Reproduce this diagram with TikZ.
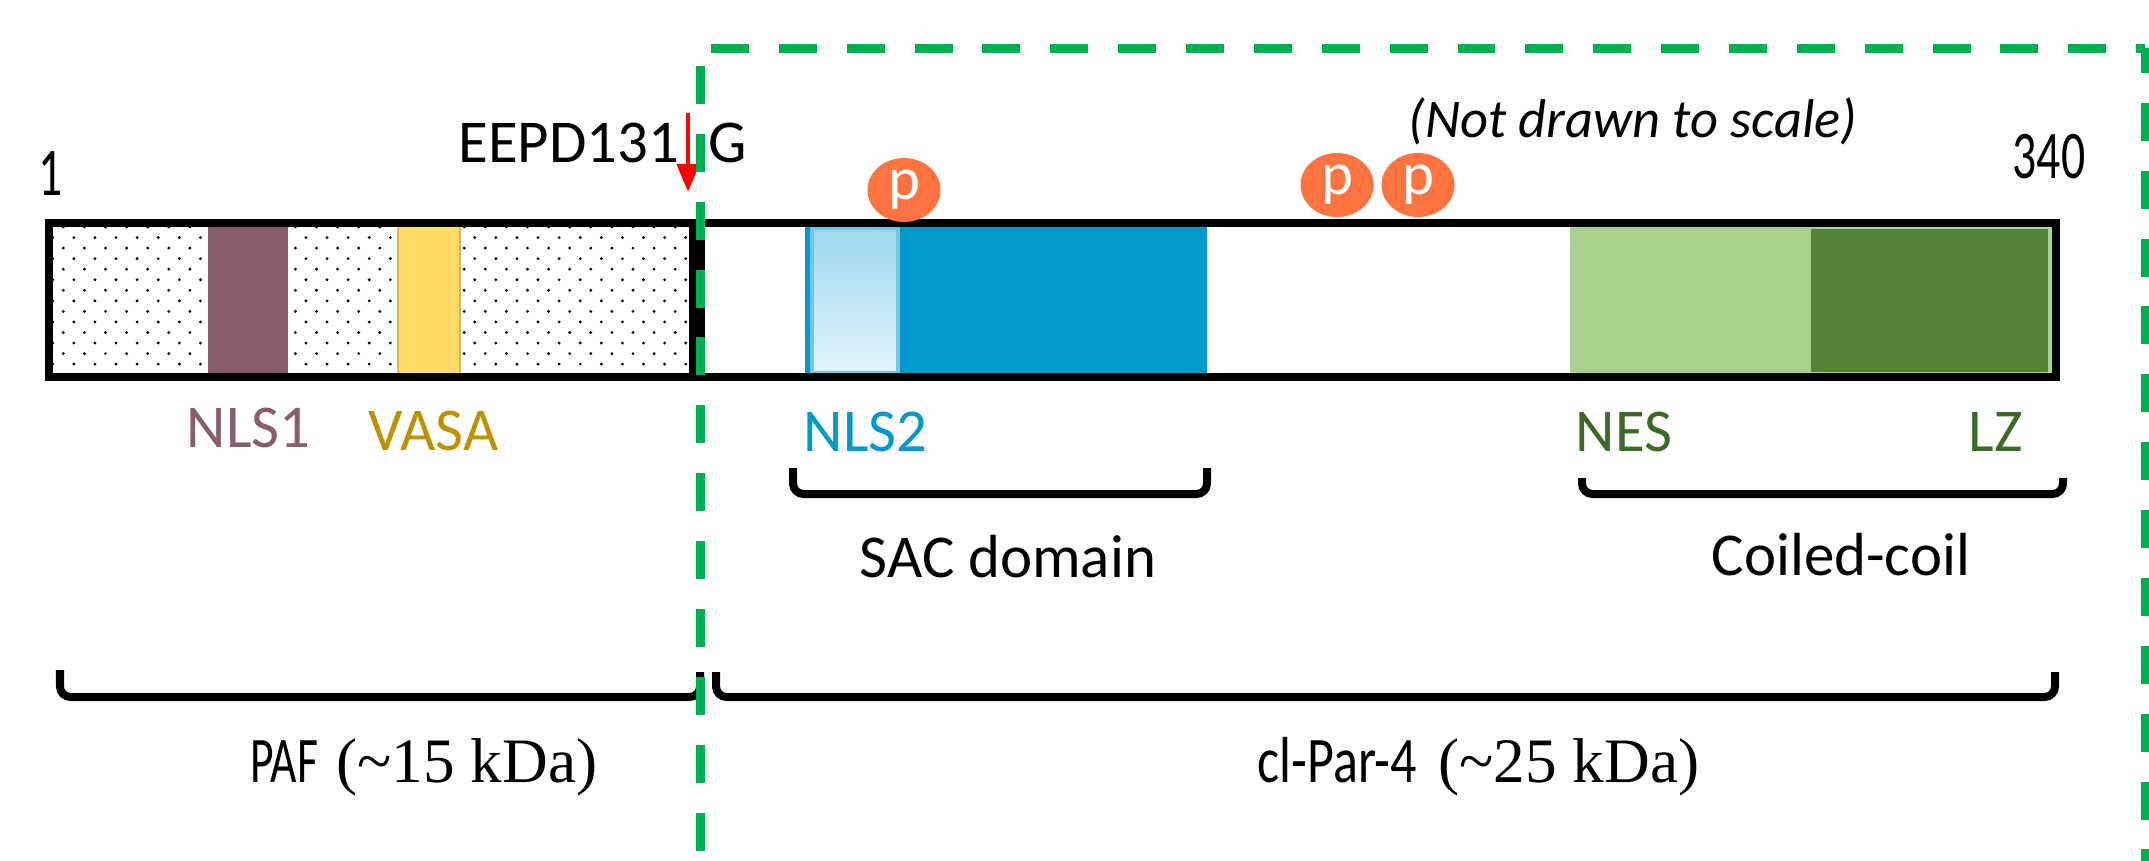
\documentclass[tikz,border=0pt]{standalone}
\usepackage{fontspec}
\setmainfont{Carlito}
\newfontfamily\timesfont{Liberation Serif}
\newfontfamily\condfont[FakeStretch=0.7]{Carlito}
\newfontfamily\semicondfont[FakeStretch=0.8]{Carlito}
\usetikzlibrary{calc, arrows.meta, patterns, shapes.geometric}

\definecolor{nlsbrown}{HTML}{875E6B}
\definecolor{vasafill}{HTML}{FFD966}
\definecolor{vasatext}{HTML}{BF9000}
\definecolor{sacblue}{HTML}{0099CC}
\definecolor{saclight}{HTML}{9ED8EE}
\definecolor{saclighter}{HTML}{E2F3FA}
\definecolor{neslight}{HTML}{A9D18E}
\definecolor{lzdark}{HTML}{548235}
\definecolor{cctext}{HTML}{3D6A26}
\definecolor{cutgreen}{HTML}{00B050}
\definecolor{phos}{HTML}{FF7340}

% sparse staggered dots for the PAF part
\pgfdeclarepatternformonly{fine dots}{\pgfqpoint{-1pt}{-1pt}}{\pgfqpoint{5pt}{5pt}}{\pgfqpoint{6pt}{6pt}}{%
  \pgfpathcircle{\pgfqpoint{0pt}{0pt}}{.45pt}
  \pgfpathcircle{\pgfqpoint{3pt}{3pt}}{.45pt}
  \pgfusepath{fill}}

\newcommand{\lblsize}{\fontsize{17.3}{20}\selectfont}

\begin{document}
\begin{tikzpicture}[x=0.01cm, y=-0.01cm,
  lbl/.style={inner sep=0pt, font=\lblsize},
  phosdot/.style={ellipse, fill=phos, text=white, inner sep=0pt,
    minimum width=0.73cm, minimum height=0.64cm, font=\lblsize},
  bracket/.style={line width=0.08cm, rounded corners=3pt},
  masslbl/.style={inner sep=0pt, font=\timesfont\fontsize{18}{22}\selectfont},
  cutline/.style={cutgreen, line width=0.09cm, dash pattern=on 10.8pt off 8.5pt}]

\useasboundingbox (0,0) rectangle (2149,860);

% PAF part (dotted)
\fill[pattern=fine dots] (53,227) rectangle (689,373);
\fill[nlsbrown] (208,225) rectangle (288,375);
\filldraw[fill=vasafill, draw=vasafill!85!black, line width=0.4pt] (398,225) rectangle (460,375);

% SAC domain with NLS2
\fill[sacblue] (805,225) rectangle (1207,377);
\shade[top color=saclight, bottom color=saclighter] (812,228) rectangle (898,373);
\draw[sacblue!55!white, line width=1pt] (812,228) rectangle (898,373);

% NES and LZ
\fill[neslight] (1570,224) rectangle (2053,377);
\fill[lzdark] (1811,229) rectangle (2048,372);

% outline of the protein
\draw[line width=0.08cm] (49,223) rectangle (2056,377);
\fill (689,219) rectangle (705,381);

% phosphorylation sites
\node[phosdot] (p1) at (904,190) {p};
\node[phosdot] (p2) at (1337,185) {p};
\node[phosdot] (p3) at (1418,185) {p};

% ends and cleavage site
\node[inner sep=0pt, anchor=base, font=\condfont\fontsize{19.4}{22}\selectfont] (aa1) at (51,195) {1};
\node[inner sep=0pt, anchor=base west, font=\condfont\fontsize{19.4}{22}\selectfont] (aa340) at (2012,178) {340};
\node[lbl, anchor=base east] (cleave) at (680,162) {EEPD131};
\node[lbl, anchor=base west] (cleaveG) at (708,162) {G};
\coordinate (cutTop) at (688,113);
\coordinate (cutTip) at (688,192);
\draw[red, line width=1.3pt, -{Triangle[length=0.28cm, width=0.22cm]}] (cutTop) -- (cutTip);

\node[inner sep=0pt, anchor=base, font=\fontsize{15.5}{18}\selectfont\itshape] (note) at (1633,137) {(Not drawn to scale)};

% domain labels
\node[lbl, anchor=base west, text=nlsbrown] (nls1) at (186,447) {NLS1};
\node[lbl, anchor=base west, text=vasatext] (vasa) at (368,450) {VASA};
\node[lbl, anchor=base west, text=sacblue] (nls2) at (803,451) {NLS2};
\node[lbl, anchor=base west, text=cctext] (nes) at (1575,451) {NES};
\node[lbl, anchor=base west, text=cctext] (lz) at (1968,451) {LZ};

% brackets
\draw[bracket] (793,468) -- (793,494) -- (1207,494) -- (1207,468);
\draw[bracket] (1582,478) -- (1582,494) -- (2063,494) -- (2063,478);
\node[lbl, anchor=base] (sac) at (1008,577) {SAC domain};
\node[lbl, anchor=base] (coil) at (1841,575) {Coiled-coil};

\draw[bracket] (60,670) -- (60,697) -- (700,697) -- (700,672);
\draw[bracket] (716,672) -- (716,697) -- (2055,697) -- (2055,672);
\node[inner sep=0pt, anchor=base west, font=\condfont\fontsize{18.5}{22}\selectfont] (pafname) at (250,782) {PAF};
\node[masslbl, anchor=base east] (pafmass) at (598,782) {(\textasciitilde15 kDa)};
\node[inner sep=0pt, anchor=base west, font=\semicondfont\fontsize{18.5}{22}\selectfont] (clparname) at (1257,782) {cl-Par-4};
\node[masslbl, anchor=base east] (clparmass) at (1700,782) {(\textasciitilde25 kDa)};

% cleaved part frame
\draw[cutline, dash phase=14.2pt] (700,48) -- (700,870);
\draw[cutline, dash phase=16.2pt] (700,48) -- (2145,48);
\draw[cutline, dash phase=3.7pt] (2145,48) -- (2145,870);

\end{tikzpicture}
\end{document}
